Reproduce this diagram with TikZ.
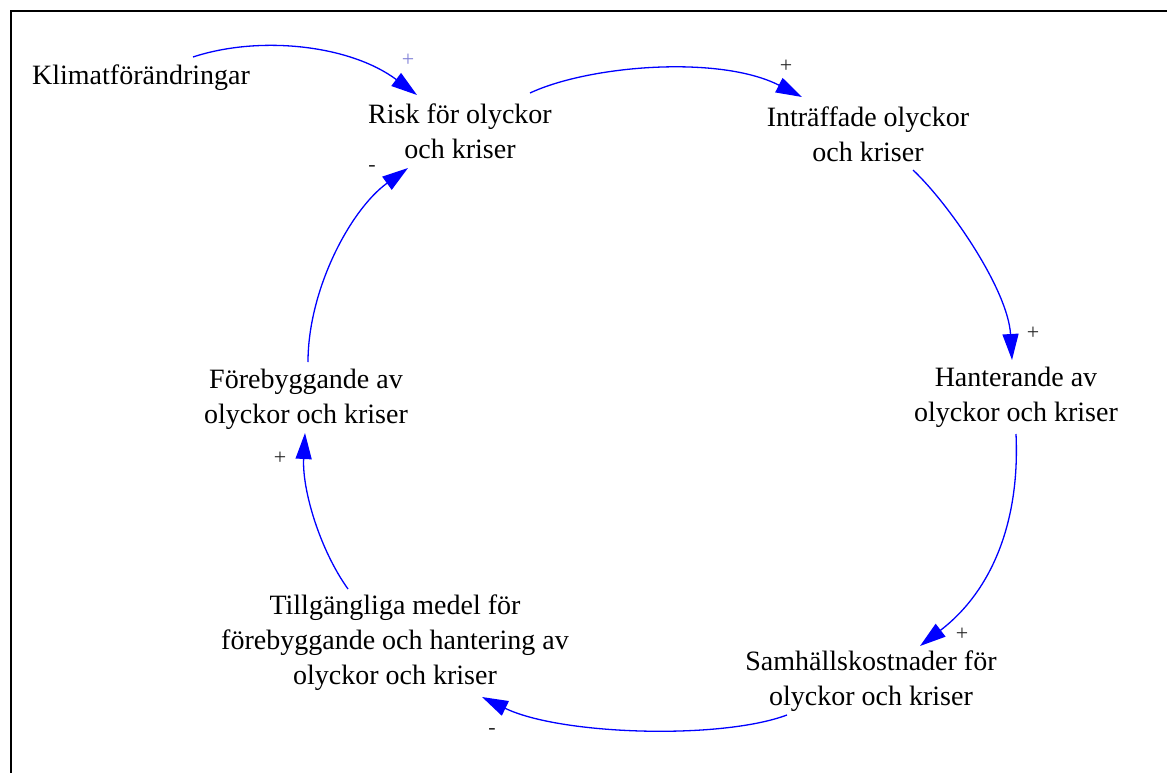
\documentclass[tikz,border=0pt]{standalone}
\usepackage{fontspec}
\setmainfont{Liberation Serif}
\usetikzlibrary{arrows.meta}
\definecolor{linkblue}{RGB}{0,0,255}
\definecolor{signlav}{RGB}{130,130,215}
\definecolor{signgrey}{RGB}{40,40,40}
\begin{document}
\begin{tikzpicture}[x=1pt,y=-1pt,
  var/.style={inner sep=0pt,align=center,font=\fontsize{28}{35}\selectfont,text=black},
  link/.style={draw=linkblue,line width=1.3pt,-{Triangle[length=26pt,width=16pt]},fill=none},
  sign/.style={inner sep=0pt,font=\fontsize{22}{22}\selectfont,text=signgrey}]
\useasboundingbox (0,0) rectangle (1167,773);
\draw[line width=2pt,black] (11,780) -- (11,11) -- (1175,11);

\node[var] (klim)  at (141,78)  {Klimatförändringar};
\node[var] (risk)  at (460,131) {Risk för olyckor\\och kriser};
\node[var] (intr)  at (868,134) {Inträffade olyckor\\och kriser};
\node[var] (hant)  at (1016,397) {Hanterande av\\olyckor och kriser};
\node[var] (samh)  at (871,681) {Samhällskostnader för\\olyckor och kriser};
\node[var] (tillg) at (395,643) {Tillgängliga medel för\\förebyggande och hantering av\\olyckor och kriser};
\node[var] (foreb) at (306,399) {Förebyggande av\\olyckor och kriser};

\draw[link] ([shift={(52,-21)}]klim.center) .. controls (260,35) and (350,45) .. ([shift={(-43,-36)}]risk.center);
\draw[link] ([shift={(70,-38)}]risk.center) .. controls (590,65) and (720,55) .. ([shift={(-66,-37)}]intr.center);
\draw[link] ([shift={(45,36)}]intr.center) .. controls (950,205) and (1008,290) .. ([shift={(-4,-37)}]hant.center);
\draw[link] ([shift={(0,37)}]hant.center) .. controls (1020,520) and (993,590) .. ([shift={(49,-35)}]samh.center);
\draw[link] ([shift={(-84,34)}]samh.center) .. controls (720,740) and (560,735) .. ([shift={(87,54)}]tillg.center);
\draw[link] ([shift={(-47,-54)}]tillg.center) .. controls (320,550) and (302,490) .. ([shift={(-1,34)}]foreb.center);
\draw[link] ([shift={(2,-37)}]foreb.center) .. controls (308,290) and (350,210) .. ([shift={(-52,37)}]risk.center);

\node[sign,text=signlav] (s1) at (408,60) {+};
\node[sign] (s2) at (786,66) {+};
\node[sign] (s3) at (1033,333) {+};
\node[sign] (s4) at (962,634) {+};
\node[sign] (s5) at (492,731) {-};
\node[sign] (s6) at (280,458) {+};
\node[sign] (s7) at (372,168) {-};
\end{tikzpicture}
\end{document}
